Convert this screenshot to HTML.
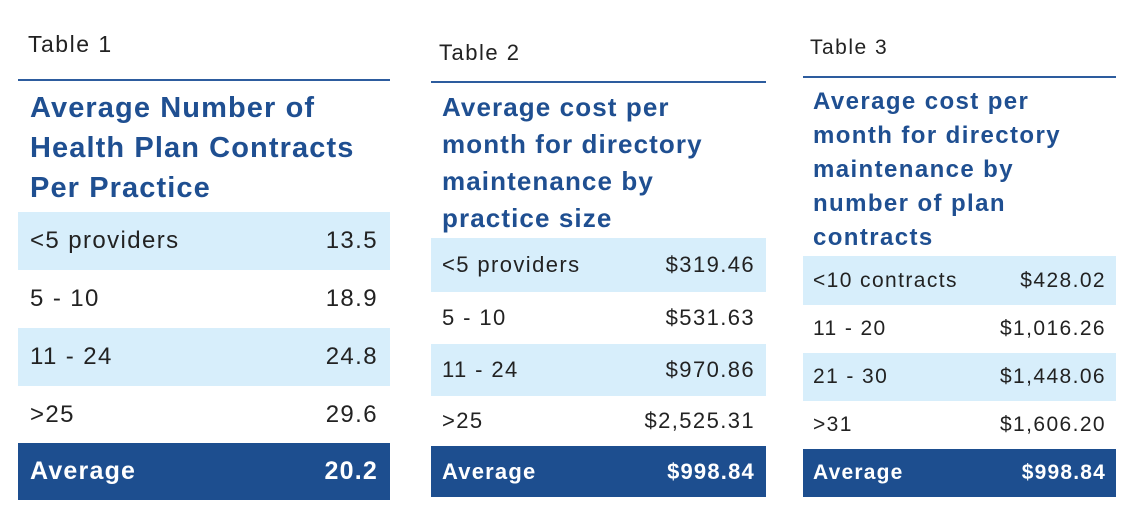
<!DOCTYPE html>
<html><head><meta charset="utf-8"><style>
body{margin:0;width:1138px;height:522px;background:#fff;position:relative;overflow:hidden;font-family:"Liberation Sans",sans-serif}
.lbl{position:absolute;color:#222;letter-spacing:1.5px}
.rule{position:absolute;height:2px;background:#2d5c9e}
.ttl{position:absolute;color:#1f4f91;white-space:nowrap;font-weight:bold;letter-spacing:1.1px}
.row{position:absolute;display:flex;justify-content:space-between;align-items:center;box-sizing:border-box;color:#222;letter-spacing:1.4px}
.b{background:#d7eefb}
.avg{background:#1d4e8f;color:#fff;font-weight:bold;letter-spacing:1.2px}
</style></head><body>
<div>
<div class="lbl" style="left:28px;top:31px;font-size:23px">Table 1</div>
<div class="rule" style="left:18px;top:79px;width:372px"></div>
<div class="ttl" style="left:30px;top:88px;font-size:29px;line-height:40px">Average Number of<br>Health Plan Contracts<br>Per Practice</div>
<div class="row b" style="left:18px;top:212px;width:372px;height:58px;padding:0 12px;font-size:24px"><span>&lt;5 providers</span><span>13.5</span></div>
<div class="row" style="left:18px;top:270px;width:372px;height:58px;padding:0 12px;font-size:24px"><span>5 - 10</span><span>18.9</span></div>
<div class="row b" style="left:18px;top:328px;width:372px;height:58px;padding:0 12px;font-size:24px"><span>11 - 24</span><span>24.8</span></div>
<div class="row" style="left:18px;top:386px;width:372px;height:57px;padding:0 12px;font-size:24px"><span>&gt;25</span><span>29.6</span></div>
<div class="row avg" style="left:18px;top:443px;width:372px;height:57px;padding:0 12px;font-size:25px"><span>Average</span><span>20.2</span></div>
</div>
<div>
<div class="lbl" style="left:439px;top:40px;font-size:22px">Table 2</div>
<div class="rule" style="left:431px;top:81px;width:335px"></div>
<div class="ttl" style="left:442px;top:89px;font-size:26px;line-height:37px">Average cost per<br>month for directory<br>maintenance by<br>practice size</div>
<div class="row b" style="left:431px;top:238px;width:335px;height:54px;padding:0 11px;font-size:22px"><span>&lt;5 providers</span><span>$319.46</span></div>
<div class="row" style="left:431px;top:292px;width:335px;height:52px;padding:0 11px;font-size:22px"><span>5 - 10</span><span>$531.63</span></div>
<div class="row b" style="left:431px;top:344px;width:335px;height:52px;padding:0 11px;font-size:22px"><span>11 - 24</span><span>$970.86</span></div>
<div class="row" style="left:431px;top:396px;width:335px;height:50px;padding:0 11px;font-size:22px"><span>&gt;25</span><span>$2,525.31</span></div>
<div class="row avg" style="left:431px;top:446px;width:335px;height:51px;padding:0 11px;font-size:22px"><span>Average</span><span>$998.84</span></div>
</div>
<div>
<div class="lbl" style="left:810px;top:36px;font-size:21px">Table 3</div>
<div class="rule" style="left:803px;top:76px;width:313px"></div>
<div class="ttl" style="left:813px;top:85px;font-size:24px;line-height:34px;letter-spacing:1.4px">Average cost per<br>month for directory<br>maintenance by<br>number of plan<br>contracts</div>
<div class="row b" style="left:803px;top:256px;width:313px;height:49px;padding:0 10px;font-size:21px"><span>&lt;10 contracts</span><span>$428.02</span></div>
<div class="row" style="left:803px;top:305px;width:313px;height:48px;padding:0 10px;font-size:21px"><span>11 - 20</span><span>$1,016.26</span></div>
<div class="row b" style="left:803px;top:353px;width:313px;height:48px;padding:0 10px;font-size:21px"><span>21 - 30</span><span>$1,448.06</span></div>
<div class="row" style="left:803px;top:401px;width:313px;height:48px;padding:0 10px;font-size:21px"><span>&gt;31</span><span>$1,606.20</span></div>
<div class="row avg" style="left:803px;top:449px;width:313px;height:48px;padding:0 10px;font-size:21px"><span>Average</span><span>$998.84</span></div>
</div>
</body></html>
